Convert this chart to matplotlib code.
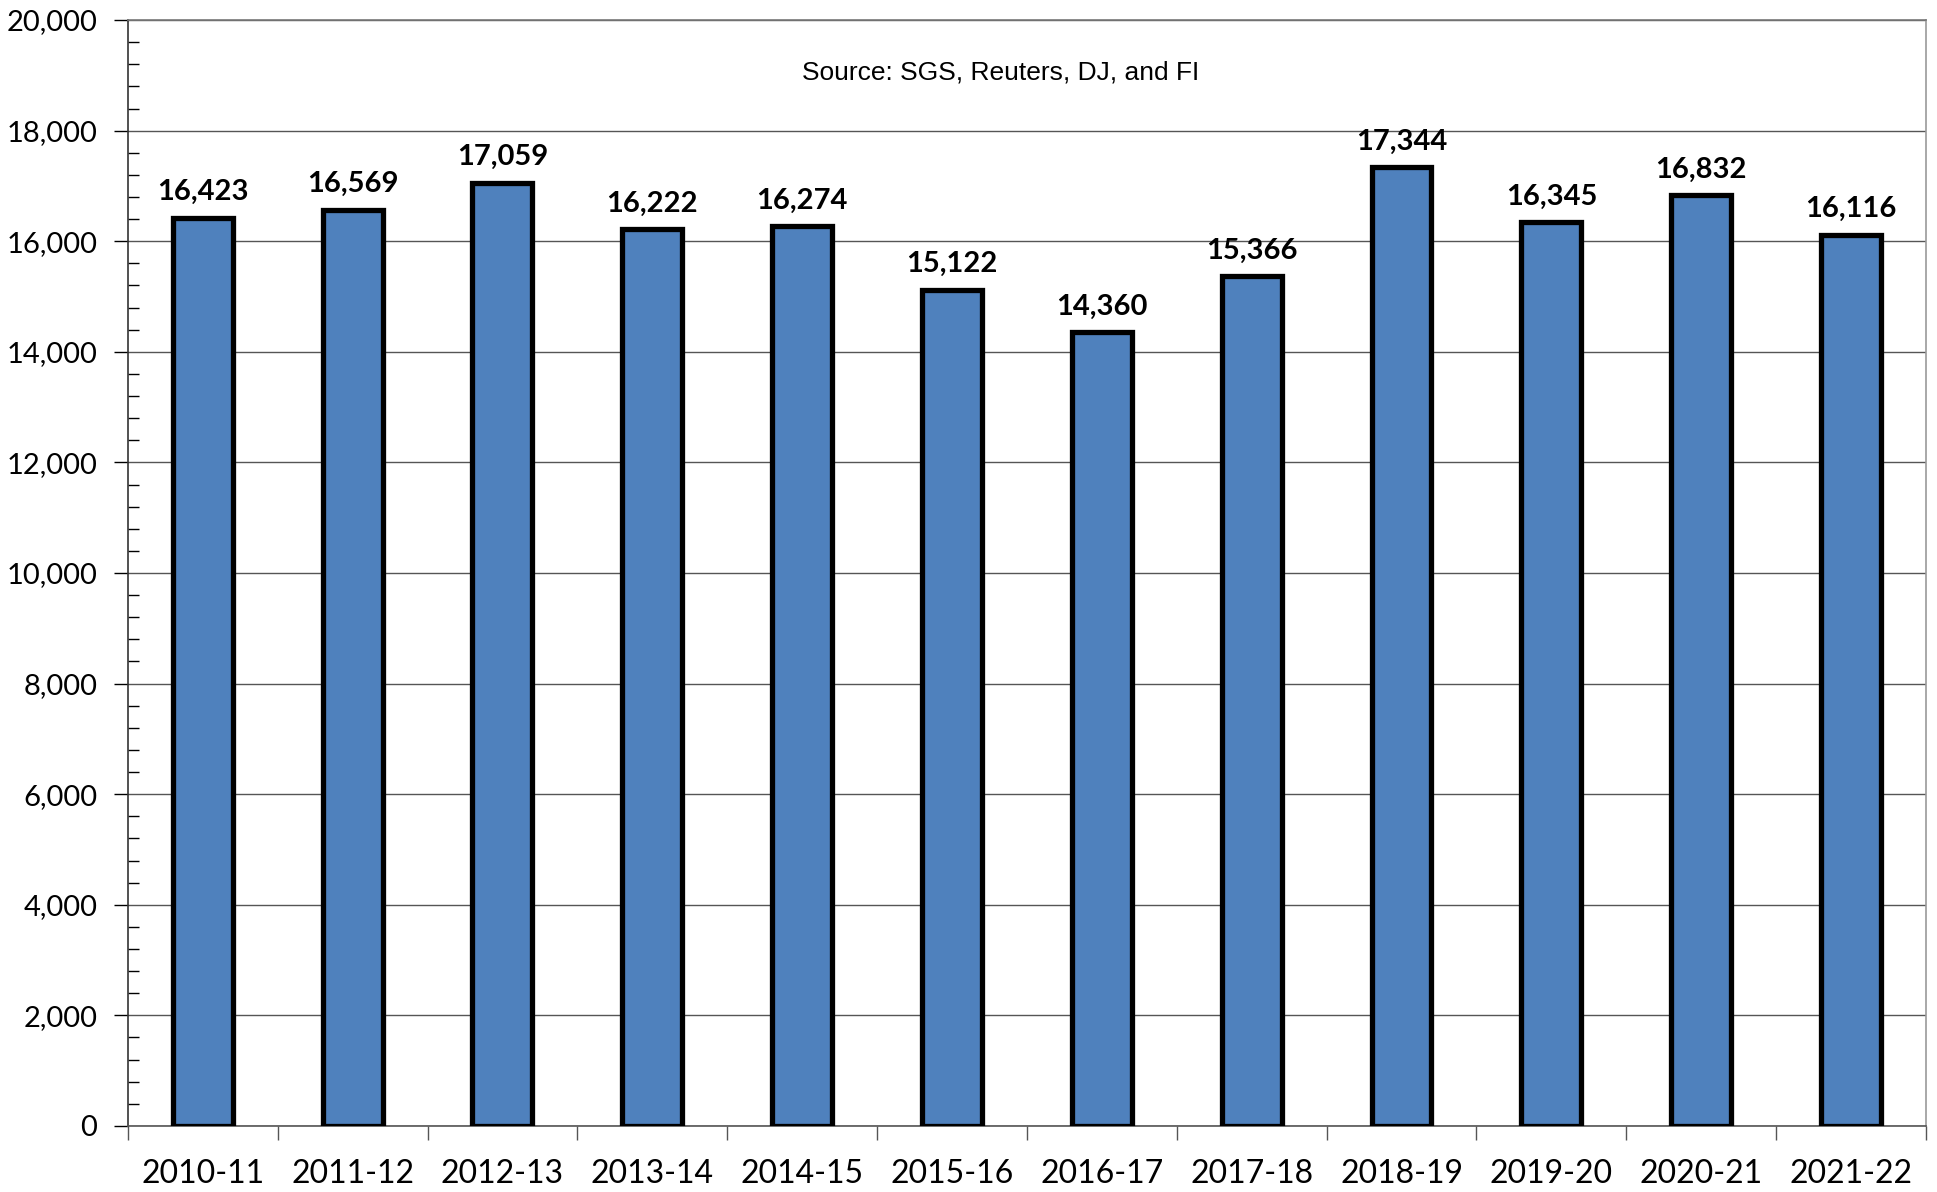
import matplotlib
matplotlib.use("Agg")
import matplotlib.pyplot as plt
from matplotlib.ticker import MultipleLocator, FuncFormatter

# Daten
seasons = ["2010-11", "2011-12", "2012-13", "2013-14", "2014-15", "2015-16",
           "2016-17", "2017-18", "2018-19", "2019-20", "2020-21", "2021-22"]
values = [16423, 16569, 17059, 16222, 16274, 15122,
          14360, 15366, 17344, 16345, 16832, 16116]
source_text = "Source: SGS, Reuters, DJ, and FI"

fig = plt.figure(figsize=(19.37, 11.92), dpi=100)
ax = fig.add_axes([0.066, 0.0554, 0.9283, 0.9278])

x = list(range(len(seasons)))
ax.bar(x, values, width=0.4, color="#4F81BD", edgecolor="black",
       linewidth=3.8, zorder=3)

# Werte ueber den Balken
for xi, v in zip(x, values):
    ax.annotate(f"{v:,}", (xi, v), xytext=(0, 9), textcoords="offset points",
                ha="center", va="bottom", fontsize=21, fontweight="bold",
                family="Lato")

ax.set_xlim(-0.5, len(seasons) - 0.5)
ax.set_ylim(0, 20000)

ax.yaxis.set_major_locator(MultipleLocator(2000))
ax.yaxis.set_minor_locator(MultipleLocator(400))
ax.yaxis.set_major_formatter(FuncFormatter(lambda v, p: f"{int(v):,}"))
ax.grid(axis="y", which="major", color="#555555", linewidth=1.0, zorder=0)

ax.set_xticks(x)
ax.set_xticklabels(seasons)
ax.set_xticks([i + 0.5 for i in x[:-1]] + [-0.5, len(seasons) - 0.5], minor=True)
ax.tick_params(axis="x", which="major", length=0, pad=24)
ax.tick_params(axis="x", which="minor", direction="out", length=10, width=1,
               color="#555555")
ax.tick_params(axis="y", which="major", direction="out", length=10, width=1,
               pad=12)
ax.tick_params(axis="y", which="minor", direction="in", length=8, width=1)

for lbl in ax.get_xticklabels():
    lbl.set_fontsize(23)
    lbl.set_family("Lato")
for lbl in ax.get_yticklabels():
    lbl.set_fontsize(21)
    lbl.set_family("Lato")

ax.spines["left"].set_color("#333333")
ax.spines["bottom"].set_color("#555555")
ax.spines["top"].set_color("#777777")
ax.spines["right"].set_color("#999999")
for s in ax.spines.values():
    s.set_linewidth(1.2)

ax.text(0.4855, 19060, source_text, transform=ax.get_yaxis_transform(),
        ha="center", va="center", fontsize=19, family="Liberation Sans")

fig.savefig("out.png", dpi=100)
plt.close()
